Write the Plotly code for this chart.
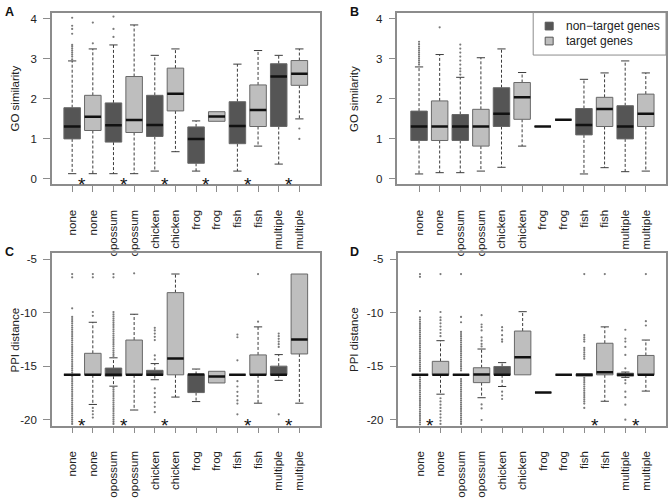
import plotly.graph_objects as go

# ---------------- data ----------------
categories = ["none", "none", "opossum", "opossum", "chicken", "chicken",
              "frog", "frog", "fish", "fish", "multiple", "multiple"]
groups = ["non-target", "target"] * 6

# Panel A : GO similarity
A_q1 = [0.99, 1.20, 0.91, 1.15, 1.05, 1.69, 0.38, 1.43, 0.87, 1.30, 1.30, 2.33]
A_med = [1.30, 1.545, 1.33, 1.46, 1.34, 2.12, 0.99, 1.55, 1.31, 1.71, 2.55, 2.62]
A_q3 = [1.77, 2.08, 1.89, 2.55, 2.08, 2.76, 1.29, 1.67, 1.92, 2.34, 2.87, 2.95]
A_lo = [0.12, 0.12, 0.12, 0.12, 0.185, 0.67, 0.185, 1.43, 0.185, 0.81, 0.36, 1.49]
A_hi = [2.94, 3.24, 3.34, 3.84, 3.08, 3.24, 1.44, 1.67, 2.86, 3.20, 3.08, 3.24]
A_out = [[2.98, 3.05, 3.1, 3.15, 3.2, 3.25, 3.3, 3.34, 3.62, 3.74, 3.82, 4.02],
         [3.38, 3.9],
         [3.54, 3.74, 4.05],
         [], [], [], [], [], [], [], [],
         [1.25, 0.99]]
A_stars = [1.5, 3.5, 5.5, 7.5, 9.5, 11.5]

# Panel B : GO similarity
B_q1 = [0.95, 0.95, 0.95, 0.81, 1.30, 1.48, 1.30, 1.47, 1.09, 1.30, 0.99, 1.30]
B_med = [1.30, 1.30, 1.30, 1.30, 1.62, 2.03, 1.30, 1.47, 1.34, 1.74, 1.30, 1.62]
B_q3 = [1.685, 1.94, 1.60, 1.73, 2.27, 2.40, 1.30, 1.47, 1.75, 2.03, 1.82, 2.11]
B_lo = [0.113, 0.145, 0.145, 0.185, 0.28, 0.81, 1.30, 1.47, 0.113, 0.27, 0.17, 0.185]
B_hi = [2.79, 3.10, 2.53, 3.02, 3.24, 2.65, 1.30, 1.47, 2.48, 2.64, 2.94, 2.64]
B_out = [[2.85, 2.9, 2.95, 3.0, 3.05, 3.1, 3.15, 3.2, 3.25, 3.3, 3.36, 3.42],
         [3.78],
         [2.6, 2.68, 2.75, 2.85, 2.95, 3.05, 3.15, 3.25, 3.35],
         [], [], [], [], [], [], [], [], []]
B_stars = []

# Panel C : PPI distance
C_q1 = [-15.81, -15.81, -15.93, -15.81, -15.87, -15.81, -17.47, -16.57, -15.81, -15.81, -15.81, -13.86]
C_med = [-15.81, -15.81, -15.81, -15.81, -15.81, -14.28, -15.78, -15.96, -15.81, -15.81, -15.81, -12.50]
C_q3 = [-15.81, -13.80, -15.18, -12.56, -15.39, -8.13, -15.78, -15.48, -15.81, -13.95, -15.00, -6.39]
C_lo = [-15.81, -18.58, -16.87, -19.10, -16.27, -17.89, -18.31, -16.57, -15.81, -18.46, -16.33, -18.46]
C_hi = [-15.81, -10.90, -14.22, -10.15, -14.76, -6.39, -15.27, -15.48, -15.81, -11.33, -13.92, -6.39]
C_out = [
    [-6.4, -6.7, -9.6,
     -10.4, -10.6, -10.8, -11.0, -11.2, -11.4, -11.6, -11.8, -12.0, -12.2, -12.4, -12.6,
     -12.8, -13.0, -13.2, -13.4, -13.6, -13.8, -14.0, -14.2, -14.4, -14.6, -14.8, -15.0,
     -15.2, -15.4, -15.6, -16.0, -16.2, -16.4, -16.6, -16.8, -17.0, -17.2, -17.4, -17.6,
     -17.8, -18.0, -18.2, -18.4, -18.6, -18.8, -19.0, -19.2, -19.4, -19.6, -19.8, -20.0,
     -20.2, -20.4],
    [-6.4, -6.7, -9.94, -10.3, -18.9, -19.2, -19.5, -19.8],
    [-6.4, -6.7,
     -9.95, -10.15, -10.35, -10.55, -10.75, -10.95, -11.15, -11.35, -11.55, -11.75, -11.95,
     -12.15, -12.35, -12.55, -12.75, -12.95, -13.15, -13.35, -13.55, -13.75, -13.95, -14.15,
     -17.0, -17.2, -17.4, -17.6, -17.8, -18.0, -18.2, -18.4, -18.6, -18.8, -19.0, -19.2,
     -19.4, -19.6, -19.8, -20.0, -20.2, -20.4],
    [-6.33],
    [-11.42, -11.66, -11.96, -12.26, -12.56, -14.0, -14.37,
     -17.08, -17.5, -17.9, -18.4, -18.8, -19.3],
    [],
    [],
    [],
    [-12.05, -12.3, -14.46, -16.4, -16.9, -17.4, -17.8, -18.2, -18.5, -19.5],
    [-6.4, -10.84],
    [-11.96, -12.2, -12.45, -12.7, -12.95, -13.2, -19.5],
    [],
]
C_stars = [1.5, 3.5, 5.5, 9.5, 11.5]

# Panel D : PPI distance
D_q1 = [-15.81, -15.81, -15.81, -16.54, -15.81, -15.81, -17.47, -15.81, -15.93, -15.81, -15.93, -15.81]
D_med = [-15.81, -15.81, -15.81, -15.78, -15.81, -14.16, -17.47, -15.81, -15.81, -15.57, -15.81, -15.81]
D_q3 = [-15.81, -14.55, -15.81, -15.15, -15.03, -11.72, -17.47, -15.81, -15.72, -12.86, -15.66, -14.00]
D_lo = [-15.81, -17.62, -15.81, -17.95, -16.90, -15.81, -17.47, -15.81, -15.93, -18.28, -16.05, -17.33]
D_hi = [-15.81, -12.62, -15.81, -13.40, -14.67, -9.91, -17.47, -15.81, -15.72, -11.33, -15.55, -12.56]
D_out = [
    [-6.4, -6.65, -9.85,
     -10.45, -10.65, -10.85, -11.05, -11.25, -11.45, -11.65, -11.85, -12.05, -12.25, -12.45,
     -12.65, -12.85, -13.05, -13.25, -13.45, -13.65, -13.85, -14.05, -14.25, -14.45, -14.65,
     -14.85, -15.05, -15.25, -15.45, -16.05, -16.25, -16.45, -16.65, -16.85, -17.05, -17.25,
     -17.45, -17.65, -17.85, -18.05, -18.25, -18.45, -18.65, -18.85, -19.05, -19.25, -19.45,
     -19.65, -19.85, -20.05, -20.25, -20.45],
    [-6.4, -9.94, -10.45, -10.7, -11.0, -11.3, -11.6, -11.9, -12.2,
     -18.0, -18.3, -18.6, -18.9, -19.2, -19.5, -19.8, -20.1, -20.4],
    [-6.4, -10.4, -10.9,
     -11.8, -12.0, -12.2, -12.4, -12.6, -12.8, -13.0, -13.2, -13.4, -13.6, -13.8, -14.0,
     -14.2, -14.4, -14.6, -14.8, -15.0, -15.2, -15.4, -16.2, -16.4, -16.6, -16.8, -17.0,
     -17.2, -17.4, -17.6, -17.8, -18.0, -18.2, -18.4, -18.6, -18.8, -19.0, -19.2, -19.4,
     -19.6, -19.8, -20.0, -20.2, -20.4],
    [-10.24, -11.11, -11.35, -11.66, -12.32, -12.62, -12.92, -13.16, -18.58, -18.95, -20.03],
    [-11.36, -11.66, -12.11, -12.5, -12.71, -17.38, -17.74, -18.07],
    [],
    [],
    [],
    [-6.4, -12.1, -12.3, -12.5, -12.7, -13.3, -13.5, -13.7, -13.9, -14.1, -14.3,
     -16.1, -16.3, -16.5, -16.7, -16.9, -17.1, -17.3, -17.5, -17.7, -17.9, -18.1,
     -18.3, -18.5, -18.9],
    [-6.4],
    [-11.6, -12.42, -12.7, -13.2, -13.95, -15.2, -16.3, -16.6, -17.38, -17.9, -18.6, -20.0],
    [-6.4, -10.8, -11.2],
]
D_stars = [1.5, 9.5, 11.5]

GO_ticks = [0, 1, 2, 3, 4]
PPI_ticks = [-20, -15, -10, -5]
PPI_ticklabels = ["-20", "-15", "-10", "-5"]

# ---------------- styling ----------------
W, H = 668, 498
FONT = "Liberation Sans, Arial, Helvetica, sans-serif"
DARK = "#555555"
LIGHT = "#bebebe"
BORDER = "#686868"
WHISK = "#3c3c3c"
FRAME = "#8c8c8c"
TXT = "#222222"


def px(x):
    return x / W


def py(y):
    return 1 - y / H


fig = go.Figure()

panels = [
    dict(name="A", ax="", data=(A_q1, A_med, A_q3, A_lo, A_hi, A_out, A_stars),
         dom_x=(52, 320.5), dom_y=(13, 191), xr=[0.02, 13.0], yr=[-0.15, 4.15],
         ticks=GO_ticks, ticktext=[str(t) for t in GO_ticks], star_y=0,
         title="GO similarity", title_x=15, letter_x=3, letter_y=3),
    dict(name="B", ax="2", data=(B_q1, B_med, B_q3, B_lo, B_hi, B_out, B_stars),
         dom_x=(398, 667), dom_y=(13, 191), xr=[-0.05, 12.98], yr=[-0.15, 4.15],
         ticks=GO_ticks, ticktext=[str(t) for t in GO_ticks], star_y=0,
         title="GO similarity", title_x=354, letter_x=349, letter_y=3),
    dict(name="C", ax="3", data=(C_q1, C_med, C_q3, C_lo, C_hi, C_out, C_stars),
         dom_x=(52, 320.5), dom_y=(262.3, 440.7), xr=[0.02, 13.0], yr=[-20.56, -4.46],
         ticks=PPI_ticks, ticktext=PPI_ticklabels, star_y=-20,
         title="PPI distance", title_x=15, letter_x=3, letter_y=252),
    dict(name="D", ax="4", data=(D_q1, D_med, D_q3, D_lo, D_hi, D_out, D_stars),
         dom_x=(399, 667), dom_y=(262.3, 440.7), xr=[-0.05, 12.98], yr=[-20.56, -4.46],
         ticks=PPI_ticks, ticktext=PPI_ticklabels, star_y=-20,
         title="PPI distance", title_x=354, letter_x=349, letter_y=252),
]

shapes = []
annotations = []
layout_axes = {}
xs = list(range(1, len(categories) + 1))
BW = 0.4   # half box width
CW = 0.2   # half cap width

for p in panels:
    q1, med, q3, lo, hi, outl, stars = p["data"]
    xa = "x" + p["ax"]
    ya = "y" + p["ax"]

    # whiskers (dashed) and caps (solid)
    wx, wy, cx, cy = [], [], [], []
    for i, x in enumerate(xs):
        if hi[i] > q3[i]:
            wx += [x, x, None]
            wy += [q3[i], hi[i], None]
            cx += [x - CW, x + CW, None]
            cy += [hi[i], hi[i], None]
        if lo[i] < q1[i]:
            wx += [x, x, None]
            wy += [q1[i], lo[i], None]
            cx += [x - CW, x + CW, None]
            cy += [lo[i], lo[i], None]
    fig.add_trace(go.Scatter(x=wx, y=wy, mode="lines", xaxis=xa, yaxis=ya,
                             line=dict(color=WHISK, width=1, dash="3px,2px"),
                             hoverinfo="skip", showlegend=False))
    fig.add_trace(go.Scatter(x=cx, y=cy, mode="lines", xaxis=xa, yaxis=ya,
                             line=dict(color=WHISK, width=1),
                             hoverinfo="skip", showlegend=False))
    # outliers
    ox, oy = [], []
    for i, x in enumerate(xs):
        for v in outl[i]:
            ox.append(x)
            oy.append(v)
    fig.add_trace(go.Scatter(x=ox, y=oy, mode="markers", xaxis=xa, yaxis=ya,
                             marker=dict(size=2.2, color="#7a7a7a", line=dict(width=0)),
                             hoverinfo="skip", showlegend=False))
    # boxes and medians
    for i, x in enumerate(xs):
        fill = DARK if groups[i] == "non-target" else LIGHT
        shapes.append(dict(type="rect", xref=xa, yref=ya, x0=x - BW, x1=x + BW,
                           y0=q1[i], y1=q3[i], fillcolor=fill,
                           line=dict(color=BORDER, width=1), layer="above"))
    for i, x in enumerate(xs):
        shapes.append(dict(type="line", xref=xa, yref=ya, x0=x - BW, x1=x + BW,
                           y0=med[i], y1=med[i], line=dict(color="#111111", width=2.5),
                           layer="above"))
    # significance stars
    for s in stars:
        annotations.append(dict(x=s, y=p["star_y"], xref=xa, yref=ya, text="*",
                                showarrow=False, yshift=-6,
                                font=dict(family=FONT, size=19, color="#111111")))
    # axes
    xkey = "xaxis" + p["ax"]
    ykey = "yaxis" + p["ax"]
    layout_axes[xkey] = dict(domain=[px(p["dom_x"][0]), px(p["dom_x"][1])], anchor=ya,
                             range=p["xr"], tickmode="array", tickvals=xs, ticktext=categories,
                             tickangle=-90, ticks="outside", ticklen=6, tickcolor=FRAME,
                             ticklabelstandoff=13,
                             showline=True, mirror=True, linecolor=FRAME, linewidth=1.5,
                             showgrid=False, zeroline=False,
                             tickfont=dict(family=FONT, size=11.5, color=TXT))
    layout_axes[ykey] = dict(domain=[py(p["dom_y"][1]), py(p["dom_y"][0])], anchor=xa,
                             range=p["yr"], tickmode="array", tickvals=p["ticks"],
                             ticktext=p["ticktext"],
                             ticks="outside", ticklen=7, tickcolor=FRAME,
                             ticklabelstandoff=4,
                             showline=True, mirror=True, linecolor=FRAME, linewidth=1.5,
                             showgrid=False, zeroline=False,
                             tickfont=dict(family=FONT, size=11.5, color=TXT))
    # y title
    annotations.append(dict(x=px(p["title_x"]), y=py((p["dom_y"][0] + p["dom_y"][1]) / 2),
                            xref="paper", yref="paper", text=p["title"], textangle=-90,
                            showarrow=False, xanchor="center", yanchor="middle",
                            font=dict(family=FONT, size=11.5, color=TXT)))
    # panel letter
    annotations.append(dict(x=px(p["letter_x"]), y=py(p["letter_y"]), xref="paper", yref="paper",
                            text="<b>%s</b>" % p["name"], showarrow=False,
                            xanchor="left", yanchor="top",
                            font=dict(family=FONT, size=12.5, color="#111111")))

# legend (panel B)
legend_labels = ["non\u2212target genes", "target genes"]
legend_colors = [DARK, LIGHT]
shapes.append(dict(type="rect", xref="paper", yref="paper", x0=px(534), x1=px(667),
                   y0=py(57), y1=py(13), line=dict(color=FRAME, width=1),
                   fillcolor="white", layer="above"))
for k, (lab, col) in enumerate(zip(legend_labels, legend_colors)):
    cyp = 27 + k * 15.5
    shapes.append(dict(type="rect", xref="paper", yref="paper",
                       x0=px(546), x1=px(554), y0=py(cyp + 4), y1=py(cyp - 4),
                       fillcolor=col, line=dict(color="#555555", width=1), layer="above"))
    annotations.append(dict(x=px(565), y=py(cyp), xref="paper", yref="paper", text=lab,
                            showarrow=False, xanchor="left", yanchor="middle",
                            font=dict(family=FONT, size=12, color=TXT)))

fig.update_layout(
    width=W, height=H,
    margin=dict(l=0, r=0, t=0, b=0),
    paper_bgcolor="white", plot_bgcolor="white",
    showlegend=False,
    shapes=shapes, annotations=annotations,
    **layout_axes,
)

fig.write_html("out.html", config={"displayModeBar": False},
               post_script="document.body.style.margin='0';")
